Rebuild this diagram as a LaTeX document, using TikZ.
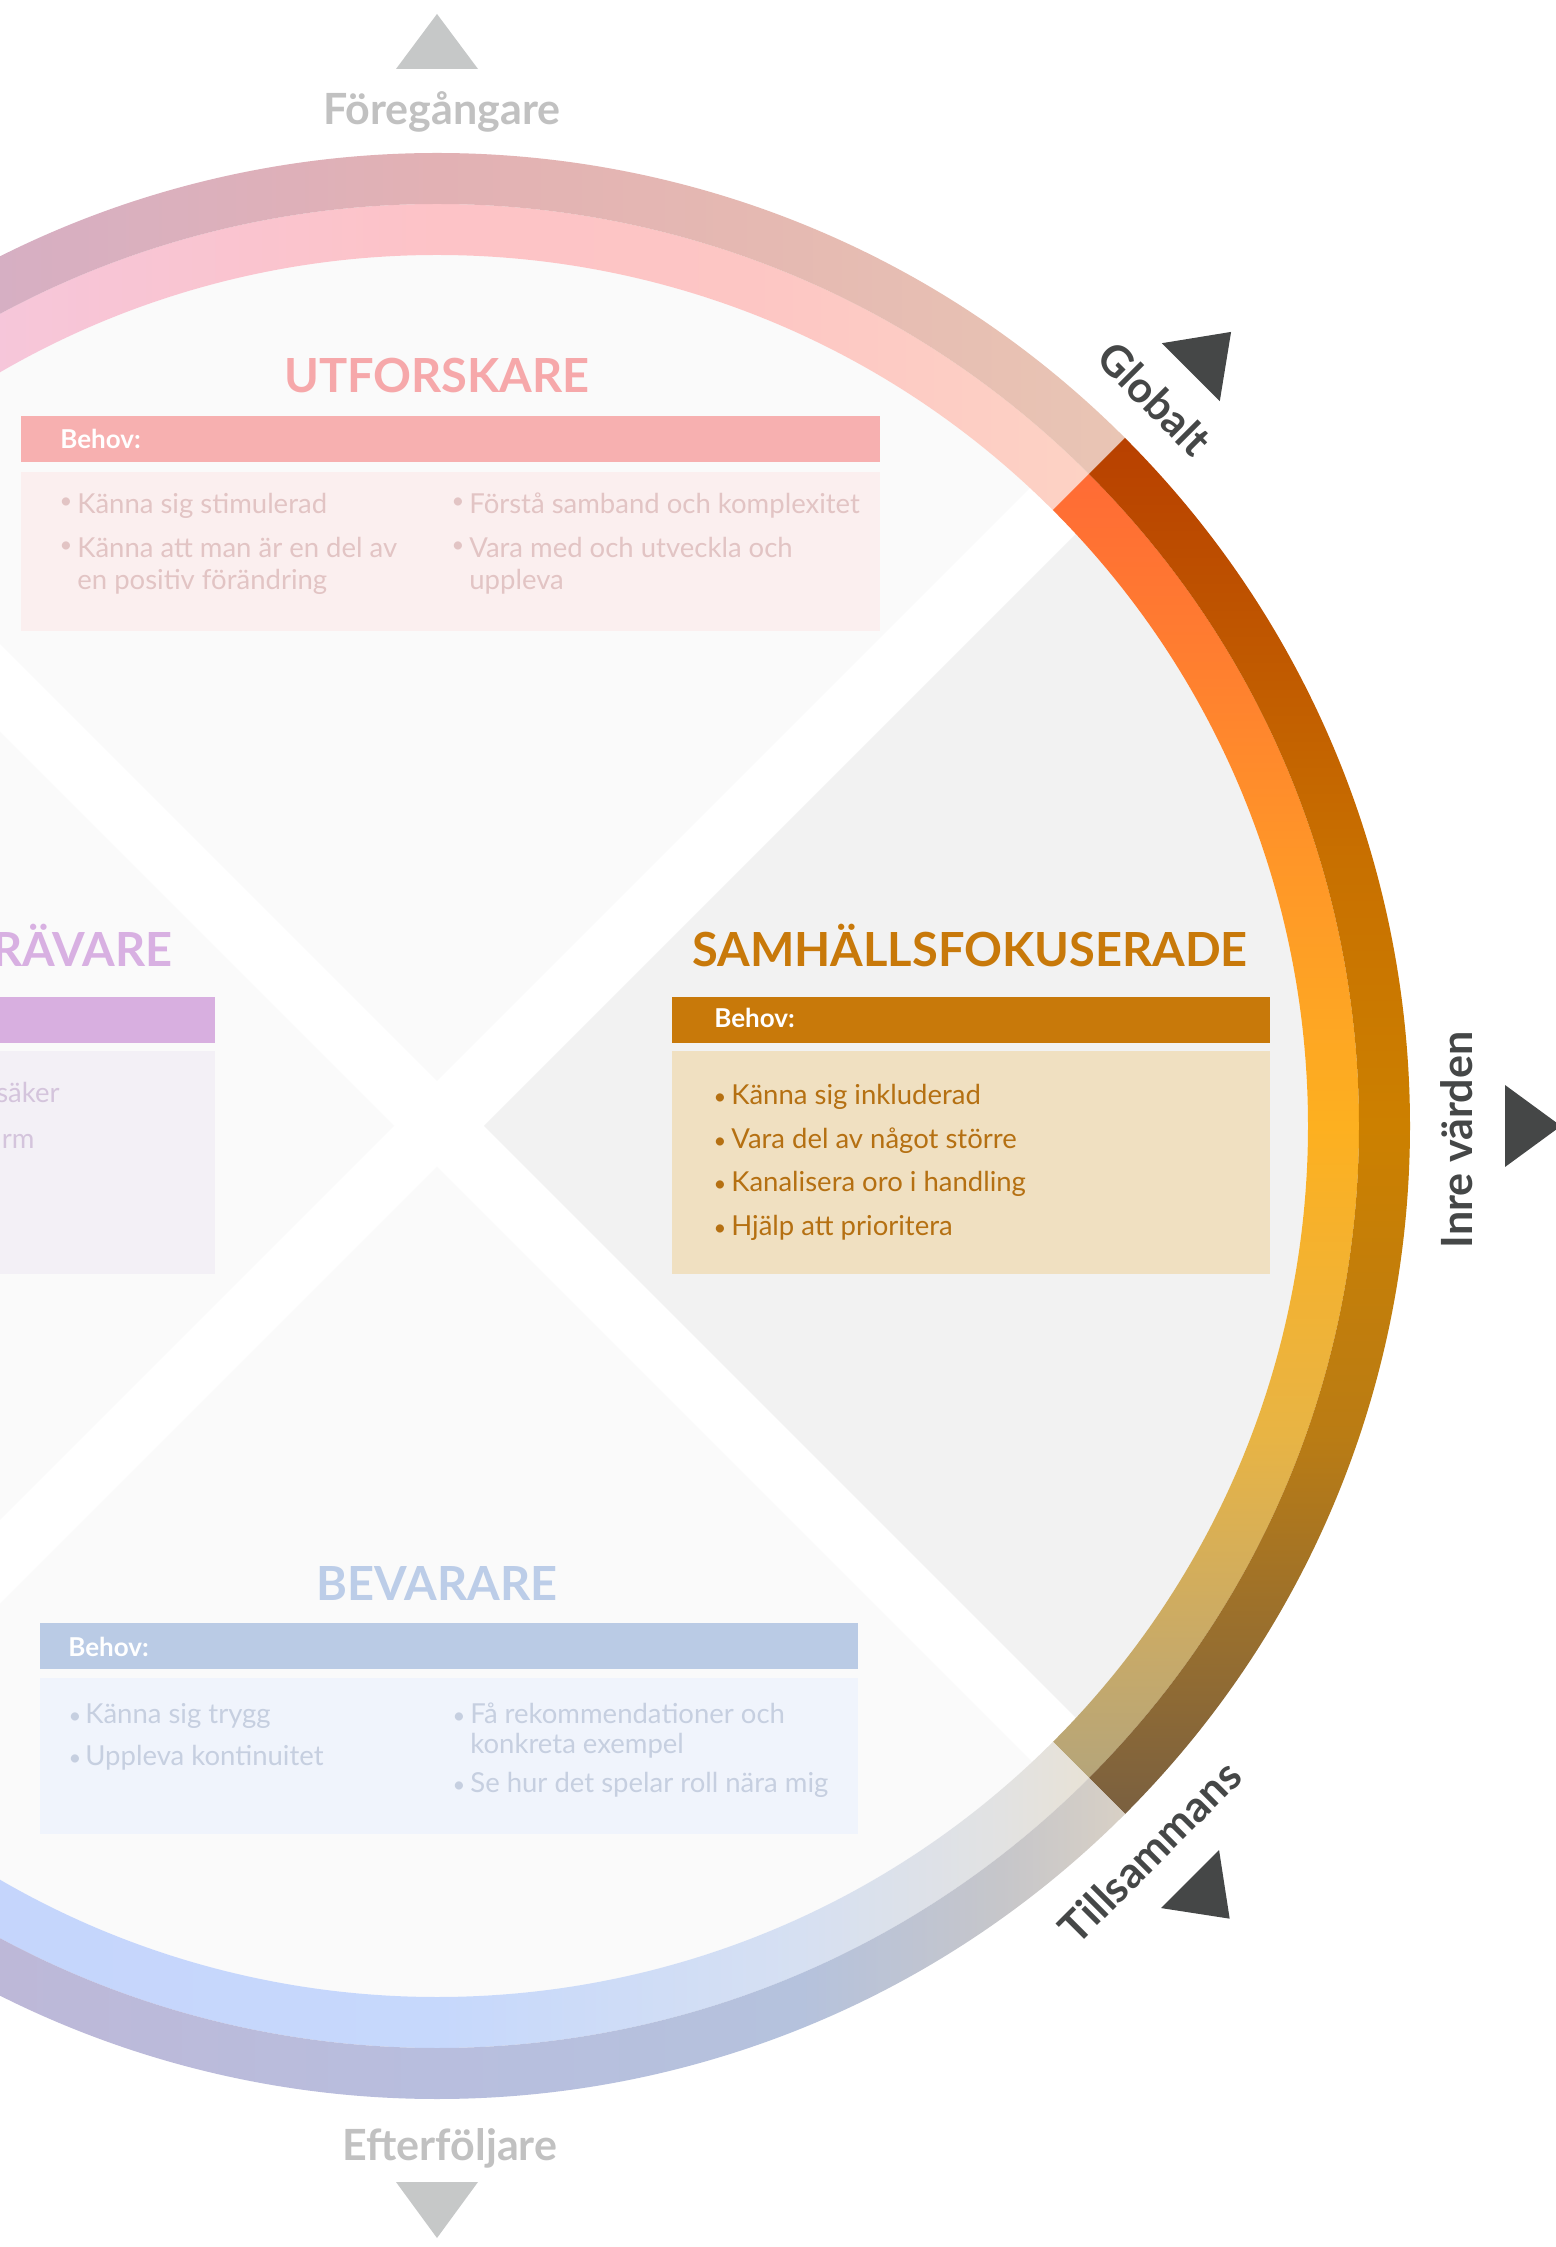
\documentclass[tikz,border=0pt]{standalone}
\usepackage{fontspec}
\setmainfont{Lato}

% quadrant fills
\definecolor{qright}{RGB}{242,242,242}
\definecolor{qfade}{RGB}{250,250,250}
% labels
\definecolor{lbldark}{RGB}{69,71,71}
\definecolor{lblgray}{RGB}{193,193,193}
\definecolor{trigray}{RGB}{198,200,200}
% Utforskare
\definecolor{uttitle}{RGB}{246,168,170}
\definecolor{uthead}{RGB}{247,176,176}
\definecolor{utbox}{RGB}{251,239,239}
\definecolor{uttext}{RGB}{226,196,196}
% Samhallsfokuserade
\definecolor{satitle}{RGB}{200,121,10}
\definecolor{sahead}{RGB}{200,121,10}
\definecolor{sabox}{RGB}{240,224,193}
\definecolor{satext}{RGB}{181,112,18}
% Bevarare
\definecolor{betitle}{RGB}{188,205,232}
\definecolor{behead}{RGB}{186,203,229}
\definecolor{bebox}{RGB}{240,244,252}
\definecolor{betext}{RGB}{198,207,224}
% Stravare (cut)
\definecolor{sttitle}{RGB}{216,176,226}
\definecolor{sthead}{RGB}{216,175,224}
\definecolor{stbox}{RGB}{243,240,246}
\definecolor{sttext}{RGB}{212,196,220}

% ring colours
\definecolor{toA}{RGB}{205,172,205}
\definecolor{toB}{RGB}{214,175,195}
\definecolor{toC}{RGB}{226,177,180}
\definecolor{toD}{RGB}{229,185,178}
\definecolor{toE}{RGB}{233,197,180}
\definecolor{tiA}{RGB}{243,200,225}
\definecolor{tiB}{RGB}{246,198,218}
\definecolor{tiC}{RGB}{253,195,199}
\definecolor{tiD}{RGB}{253,198,196}
\definecolor{tiE}{RGB}{253,210,196}

\definecolor{roA}{RGB}{122,96,64}
\definecolor{roB}{RGB}{150,110,48}
\definecolor{roC}{RGB}{186,124,20}
\definecolor{roD}{RGB}{204,128,0}
\definecolor{roE}{RGB}{200,112,0}
\definecolor{roF}{RGB}{192,88,0}
\definecolor{roG}{RGB}{184,64,0}
\definecolor{riA}{RGB}{181,165,122}
\definecolor{riB}{RGB}{200,170,104}
\definecolor{riC}{RGB}{232,180,68}
\definecolor{riD}{RGB}{253,176,32}
\definecolor{riE}{RGB}{255,150,40}
\definecolor{riF}{RGB}{255,125,48}
\definecolor{riG}{RGB}{255,107,53}

\definecolor{boA}{RGB}{192,180,214}
\definecolor{boB}{RGB}{189,184,216}
\definecolor{boC}{RGB}{184,190,222}
\definecolor{boD}{RGB}{181,194,221}
\definecolor{boE}{RGB}{198,198,202}
\definecolor{boF}{RGB}{216,208,197}
\definecolor{biA}{RGB}{197,212,252}
\definecolor{biB}{RGB}{198,216,252}
\definecolor{biC}{RGB}{214,224,242}
\definecolor{biD}{RGB}{226,226,226}
\definecolor{biE}{RGB}{232,226,214}

\pgfdeclarehorizontalshading{topouter}{100bp}{color(0bp)=(toA); color(25bp)=(toA); color(34bp)=(toB); color(50bp)=(toC); color(62bp)=(toD); color(75bp)=(toE); color(100bp)=(toE)}
\pgfdeclarehorizontalshading{topinner}{100bp}{color(0bp)=(tiA); color(25bp)=(tiA); color(33bp)=(tiB); color(50bp)=(tiC); color(62bp)=(tiD); color(75bp)=(tiE); color(100bp)=(tiE)}
\pgfdeclareverticalshading{rightouter}{100bp}{color(0bp)=(roA); color(25bp)=(roA); color(31bp)=(roB); color(38.8bp)=(roC); color(50bp)=(roD); color(59.7bp)=(roE); color(67.3bp)=(roF); color(75bp)=(roG); color(100bp)=(roG)}
\pgfdeclareverticalshading{rightinner}{100bp}{color(0bp)=(riA); color(25bp)=(riA); color(30bp)=(riB); color(38.2bp)=(riC); color(50bp)=(riD); color(60.2bp)=(riE); color(68.3bp)=(riF); color(75bp)=(riG); color(100bp)=(riG)}
\pgfdeclarehorizontalshading{botouter}{100bp}{color(0bp)=(boA); color(25bp)=(boA); color(34.1bp)=(boB); color(50bp)=(boC); color(63.2bp)=(boD); color(70.5bp)=(boE); color(75bp)=(boF); color(100bp)=(boF)}
\pgfdeclarehorizontalshading{botinner}{100bp}{color(0bp)=(biA); color(25bp)=(biA); color(50bp)=(biB); color(63.9bp)=(biC); color(71.6bp)=(biD); color(75bp)=(biE); color(100bp)=(biE)}

\begin{document}
\begin{tikzpicture}[x=0.5pt,y=0.5pt,
  lbl/.style={inner sep=0pt, font=\fontsize{21.5}{24}\selectfont\bfseries},
  ttl/.style={anchor=base, inner sep=0pt, font=\fontsize{23.5}{28}\selectfont\bfseries},
  bh/.style={anchor=base west, inner sep=0pt, text=white, font=\fontsize{13}{15}\selectfont\bfseries},
  bx/.style={anchor=base west, inner sep=0pt, font=\fontsize{13.75}{17}\selectfont},
  bxr/.style={anchor=base east, inner sep=0pt, font=\fontsize{13.75}{17}\selectfont},
  bul/.style={anchor=base, inner sep=0pt, font=\fontsize{11}{13}\selectfont},
  img/.style={shift={(-437,1126)}, yscale=-1}]
\useasboundingbox (-437,-1121) rectangle (1119,1126);
\clip (-437,-1121) rectangle (1119,1126);
\fill[white] (-437,-1121) rectangle (1119,1126);

% ---------- quadrants ----------
\begin{scope}
  \clip (0,0) circle (871);
  \fill[qfade]  (0,45)   -- (1100,1145)  -- (-1100,1145)  -- cycle;
  \fill[qright] (47,0)   -- (1147,1100)  -- (1147,-1100)  -- cycle;
  \fill[qfade]  (-43,0)  -- (-1143,1100) -- (-1143,-1100) -- cycle;
  \fill[qfade]  (0,-41)  -- (1100,-1141) -- (-1100,-1141) -- cycle;
\end{scope}

% ---------- ring ----------
\shade[shading=topinner] (45:871) arc[start angle=45,end angle=135,radius=871] -- (135:922) arc[start angle=135,end angle=45,radius=922] -- cycle;
\shade[shading=topouter] (45:922) arc[start angle=45,end angle=135,radius=922] -- (135:973) arc[start angle=135,end angle=45,radius=973] -- cycle;
\shade[shading=rightinner] (-45:871) arc[start angle=-45,end angle=45,radius=871] -- (45:922) arc[start angle=45,end angle=-45,radius=922] -- cycle;
\shade[shading=rightouter] (-45:922) arc[start angle=-45,end angle=45,radius=922] -- (45:973) arc[start angle=45,end angle=-45,radius=973] -- cycle;
\shade[shading=botinner] (-135:871) arc[start angle=-135,end angle=-45,radius=871] -- (-45:922) arc[start angle=-45,end angle=-135,radius=922] -- cycle;
\shade[shading=botouter] (-135:922) arc[start angle=-135,end angle=-45,radius=922] -- (-45:973) arc[start angle=-45,end angle=-135,radius=973] -- cycle;

% ---------- outer labels and triangles ----------
\fill[trigray, rotate=90]  (1057,41) -- (1112,0) -- (1057,-41) -- cycle;
\fill[lbldark, rotate=45]  (1066,41) -- (1123,0) -- (1066,-41) -- cycle;
\fill[lbldark, rotate=0]   (1068,41) -- (1124,0) -- (1068,-41) -- cycle;
\fill[lbldark, rotate=-45] (1065,41) -- (1121,0) -- (1065,-41) -- cycle;
\fill[trigray, rotate=-90] (1056,41) -- (1112,0) -- (1056,-41) -- cycle;

\node[lbl, text=lblgray, anchor=base] (foreg) at (5,1001) {Föregångare};
\node[lbl, text=lbldark, anchor=base, rotate=-45] (glob) at (45.4:1006) {Globalt};
\node[lbl, text=lbldark, anchor=base, rotate=90] (inre) at (1035,-14) {Inre värden};
\node[lbl, text=lbldark, anchor=base, rotate=45] (tills) at (-45.5:1033) {Tillsammans};
\node[lbl, text=lblgray, anchor=base] (efter) at (13,-1034) {Efterföljare};

% ---------- boxes (image pixel coordinates) ----------
\begin{scope}[img]
  % Utforskare
  \node[ttl, text=uttitle] (uttitle) at (437,393) {UTFORSKARE};
  \fill[uthead] (21,416) rectangle (880,462);
  \fill[utbox]  (21,472) rectangle (880,631);
  \node[bh] (uthead) at (60,449) {Behov:};
  \begin{scope}[every node/.append style={text=uttext}]
    \node[bul] (utb1) at (66,509) {\textbullet};
    \node[bx]  (utt1) at (77,514) {Känna sig stimulerad};
    \node[bul] (utb2) at (66,553) {\textbullet};
    \node[bx]  (utt2) at (77,558) {Känna att man är en del av};
    \node[bx]  (utt2b) at (77,590) {en positiv förändring};
    \node[bul] (utb3) at (458,509) {\textbullet};
    \node[bx]  (utt3) at (469,514) {Förstå samband och komplexitet};
    \node[bul] (utb4) at (458,553) {\textbullet};
    \node[bx]  (utt4) at (469,558) {Vara med och utveckla och};
    \node[bx]  (utt4b) at (469,590) {uppleva};
  \end{scope}

  % Samhallsfokuserade
  \node[ttl, text=satitle] (satitle) at (970,967) {SAMHÄLLSFOKUSERADE};
  \fill[sahead] (672,997) rectangle (1270,1043);
  \fill[sabox]  (672,1051) rectangle (1270,1274);
  \node[bh] (sahead) at (714,1028) {Behov:};
  \begin{scope}[every node/.append style={text=satext}]
    \node[bul] (sab1) at (720,1105) {\textbullet};
    \node[bx]  (sat1) at (731,1105) {Känna sig inkluderad};
    \node[bul] (sab2) at (720,1149) {\textbullet};
    \node[bx]  (sat2) at (731,1149) {Vara del av något större};
    \node[bul] (sab3) at (720,1192) {\textbullet};
    \node[bx]  (sat3) at (731,1192) {Kanalisera oro i handling};
    \node[bul] (sab4) at (720,1236) {\textbullet};
    \node[bx]  (sat4) at (731,1236) {Hjälp att prioritera};
  \end{scope}

  % Bevarare
  \node[ttl, text=betitle] (betitle) at (437,1600) {BEVARARE};
  \fill[behead] (40,1623) rectangle (858,1669);
  \fill[bebox]  (40,1678) rectangle (858,1834);
  \node[bh] (behead) at (68,1656) {Behov:};
  \begin{scope}[every node/.append style={text=betext}]
    \node[bul] (beb1) at (75,1723) {\textbullet};
    \node[bx]  (bet1) at (85,1723) {Känna sig trygg};
    \node[bul] (beb2) at (75,1765) {\textbullet};
    \node[bx]  (bet2) at (85,1765) {Uppleva kontinuitet};
    \node[bul] (beb3) at (459,1723) {\textbullet};
    \node[bx]  (bet3) at (470,1723) {Få rekommendationer och};
    \node[bx]  (bet3b) at (470,1753) {konkreta exempel};
    \node[bul] (beb4) at (459,1792) {\textbullet};
    \node[bx]  (bet4) at (470,1792) {Se hur det spelar roll nära mig};
  \end{scope}

  % left segment (cut off)
  \node[ttl, anchor=base east, text=sttitle] (sttitle) at (173,967) {RÄVARE};
  \fill[sthead] (-400,997) rectangle (215,1043);
  \fill[stbox]  (-400,1051) rectangle (215,1274);
  \node[bxr, text=sttext] (stt1) at (60,1103) {säker};
  \node[bxr, text=sttext] (stt2) at (35,1149) {rm};
\end{scope}
\end{tikzpicture}
\end{document}
